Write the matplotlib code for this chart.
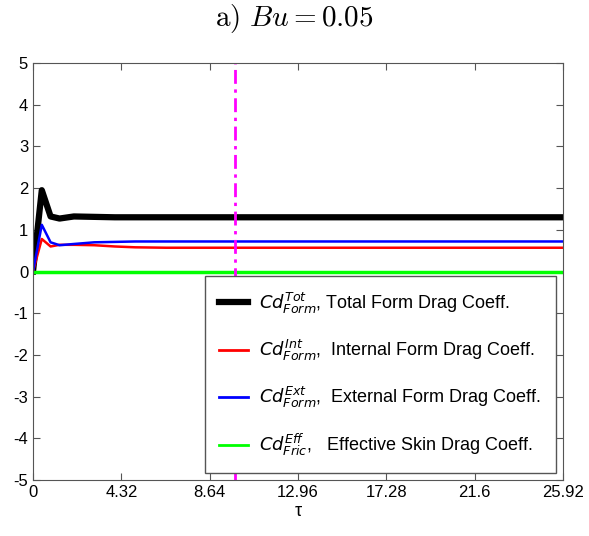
import matplotlib
matplotlib.use('Agg')
import matplotlib.pyplot as plt

plt.rcParams['font.family'] = ['Liberation Sans', 'DejaVu Sans']
plt.rcParams['mathtext.fontset'] = 'dejavusans'
plt.rcParams['axes.unicode_minus'] = False

# time samples (tau) and drag coefficients
tau = [0, 0.43, 0.86, 1.3, 2.0, 3.0, 4.0, 5.0, 6.5, 9.0, 13.0, 18.0, 25.92]
cd_tot = [0, 1.95, 1.32, 1.27, 1.32, 1.31, 1.30, 1.30, 1.30, 1.30, 1.30, 1.30, 1.30]
cd_int = [0, 0.78, 0.60, 0.64, 0.64, 0.63, 0.60, 0.58, 0.57, 0.57, 0.57, 0.57, 0.57]
cd_ext = [0, 1.12, 0.70, 0.63, 0.66, 0.70, 0.71, 0.72, 0.72, 0.72, 0.72, 0.72, 0.72]
cd_eff = [0, 0, 0, 0, 0, 0, 0, 0, 0, 0, 0, 0, 0]
tau_mark = 9.9

xticks = [0, 4.32, 8.64, 12.96, 17.28, 21.6, 25.92]
xticklabels = ['0', '4.32', '8.64', '12.96', '17.28', '21.6', '25.92']
yticks = list(range(-5, 6))

fig = plt.figure(figsize=(5.89, 5.36), dpi=100)
ax = fig.add_axes([33 / 589, 56 / 536, 530 / 589, 417 / 536])

ax.plot(tau, cd_tot, color='black', lw=4.5, label=r'$Cd^{Tot}_{Form}$, Total Form Drag Coeff.')
ax.plot(tau, cd_int, color='red', lw=1.8, label=r'$Cd^{Int}_{Form}$,  Internal Form Drag Coeff.')
ax.plot(tau, cd_ext, color='blue', lw=1.8, label=r'$Cd^{Ext}_{Form}$,  External Form Drag Coeff.')
ax.plot(tau, cd_eff, color='#00ff00', lw=2.5, label=r'$Cd^{Eff}_{Fric}$,   Effective Skin Drag Coeff.')
ax.axvline(tau_mark, color='magenta', lw=2, ls=(0, (5, 2, 1.2, 2)))

ax.set_xlim(0, 25.92)
ax.set_ylim(-5, 5)
ax.set_xticks(xticks)
ax.set_xticklabels(xticklabels)
ax.set_yticks(yticks)
ax.tick_params(direction='in', top=True, right=True, labelsize=12, length=5, color='#555555')
for s in ax.spines.values():
    s.set_color('#555555')
ax.set_xlabel('τ', fontsize=13, labelpad=2)

fig.text(0.5, 0.966, r'$\mathrm{a)}\ Bu = 0.05$', ha='center', va='center',
         fontsize=21, math_fontfamily='cm')

leg = ax.legend(loc='lower right', fontsize=13, fancybox=False, framealpha=1,
                edgecolor='#555555', handlelength=1.6, labelspacing=1.22,
                borderaxespad=0.4, handletextpad=0.6, borderpad=0.8)
leg.get_frame().set_linewidth(1.0)
for line in leg.get_lines()[1:]:
    line.set_linewidth(2)

fig.savefig('out.png', dpi=100)
